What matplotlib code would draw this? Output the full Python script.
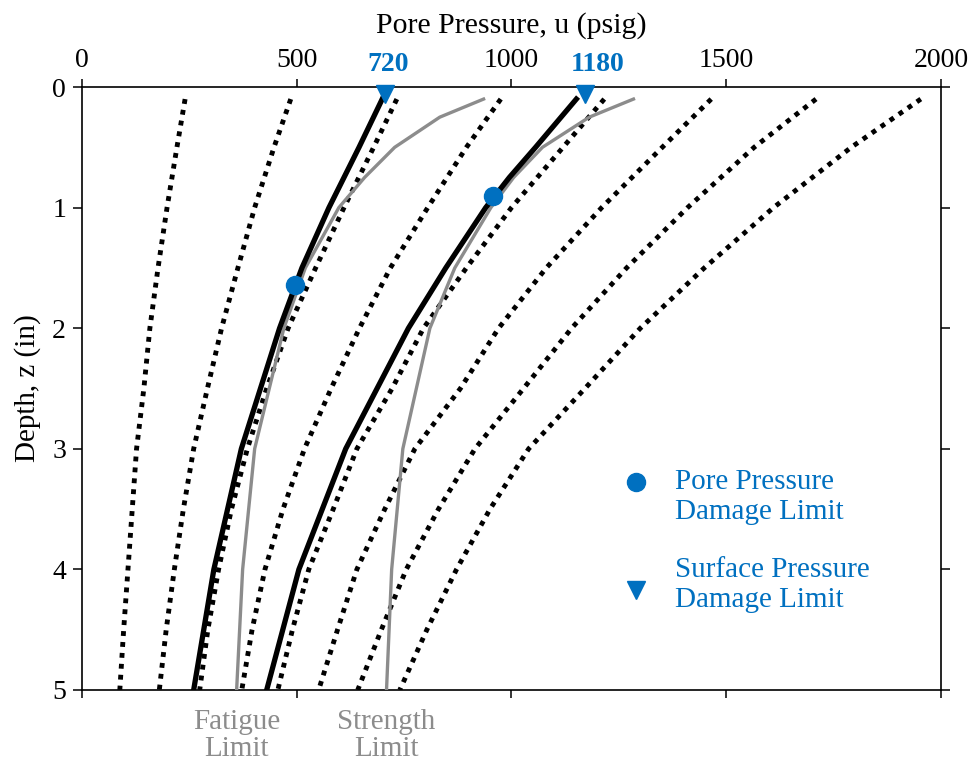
import numpy as np
import matplotlib
matplotlib.use("Agg")
from matplotlib import pyplot as plt

plt.rcParams['font.family'] = ['Liberation Serif', 'DejaVu Serif']

BLUE = '#0070C0'
GRAY = '#8C8C8C'

# depth points of the dotted family (in)
z_dot = [0.1, 0.5, 1, 1.5, 2, 2.5, 3, 3.5, 4, 4.5, 5]
# pore pressure curves (psig), one per dotted line
u_dot1 = [240, 221, 198, 177, 158, 144, 127, 117, 107, 97, 88]
u_dot2 = [486, 447, 402, 363, 325, 292, 260, 236, 215, 196, 180]
u_dot3 = [733, 679, 610, 544, 480, 430, 385, 348, 318, 293, 274]
u_dot4 = [975, 895, 805, 718, 646, 580, 518, 468, 426, 396, 372]
u_dot5 = [1216, 1120, 1000, 895, 795, 722, 640, 585, 528, 490, 456]
u_dot6 = [1465, 1351, 1210, 1081, 970, 881, 775, 705, 640, 595, 551]
u_dot7 = [1709, 1565, 1410, 1268, 1140, 1028, 915, 830, 755, 697, 642]
u_dot8 = [1953, 1791, 1610, 1449, 1300, 1171, 1040, 950, 872, 803, 740]

# solid black curves at the two surface damage limits
z_solid = [0.1, 0.5, 0.75, 1, 1.5, 2, 3, 4, 5]
u_black_720 = [699, 645, 610, 575, 512, 460, 371, 307, 260]
u_black_1180 = [1151, 1056, 995, 940, 847, 760, 614, 505, 430]

# gray limit curves
z_gray = [0.1, 0.25, 0.5, 0.75, 1, 1.5, 2, 3, 4, 5]
u_fatigue = [935, 833, 728, 658, 598, 520, 470, 402, 374, 360]
u_strength = [1284, 1181, 1072, 1005, 952, 868, 810, 747, 721, 709]

# damage limit markers
pore_u = [495, 958]
pore_z = [1.64, 0.90]
surface_u = [705, 1170]
surface_z = [0.06, 0.06]
surface_labels = ['720', '1180']
surface_label_x = [712, 1200]

fig = plt.figure(figsize=(9.74, 7.68), dpi=100)
ax = fig.add_axes([0.0842, 0.1016, 0.8819, 0.7851])

dotted = [u_dot1, u_dot2, u_dot3, u_dot4, u_dot5, u_dot6, u_dot7, u_dot8]
for u in dotted:
    ax.plot(u, z_dot, color='black', lw=3.5, linestyle=(0, (1, 1.25)),
            dash_capstyle='butt', zorder=2)

ax.plot(u_fatigue, z_gray, color=GRAY, lw=2.4, zorder=3)
ax.plot(u_strength, z_gray, color=GRAY, lw=2.4, zorder=3)
ax.plot(u_black_720, z_solid, color='black', lw=3.8, zorder=4)
ax.plot(u_black_1180, z_solid, color='black', lw=3.8, zorder=4)

ax.plot(pore_u, pore_z, 'o', color=BLUE, ms=13, zorder=5, clip_on=False)
ax.plot(surface_u, surface_z, 'v', color=BLUE, ms=13, zorder=5, clip_on=False)

ax.set_xlim(0, 2000)
ax.set_ylim(5, 0)
ax.set_xticks([0, 500, 1000, 1500, 2000])
ax.set_yticks([0, 1, 2, 3, 4, 5])
ax.xaxis.tick_top()
ax.xaxis.set_label_position('top')
ax.tick_params(axis='x', which='both', top=True, bottom=True, labeltop=True,
               labelbottom=False, direction='out', length=6, width=1.1,
               labelsize=20, pad=4)
ax.tick_params(axis='y', which='both', left=True, right=True, labelleft=True,
               labelright=False, direction='out', length=6.5, width=1.1,
               labelsize=20, pad=5)
for s in ax.spines.values():
    s.set_linewidth(1.2)

ax.set_xlabel('Pore Pressure, u (psig)', fontsize=21.5, labelpad=11)
ax.set_ylabel('Depth, z (in)', fontsize=21, labelpad=8)

# bold blue labels for the surface damage limits
for x, lab in zip(surface_label_x, surface_labels):
    ax.text(x, 1.0 + 10 / 603, lab, transform=ax.get_xaxis_transform(), ha='center',
            va='bottom', color=BLUE, fontsize=20, fontweight='bold')

# gray labels under the limit curves
ax.text(u_fatigue[-1], -0.075, 'Fatigue\nLimit', transform=ax.get_xaxis_transform(),
        ha='center', va='center', color=GRAY, fontsize=21, linespacing=1.05)
ax.text(u_strength[-1], -0.075, 'Strength\nLimit', transform=ax.get_xaxis_transform(),
        ha='center', va='center', color=GRAY, fontsize=21, linespacing=1.05)

# legend drawn by hand
ax.plot([0.645], [0.345], 'o', color=BLUE, ms=13, transform=ax.transAxes, clip_on=False)
ax.plot([0.645], [0.166], 'v', color=BLUE, ms=13, transform=ax.transAxes, clip_on=False)
ax.text(0.69, 0.320, 'Pore Pressure\nDamage Limit', transform=ax.transAxes,
        ha='left', va='center', color=BLUE, fontsize=21, linespacing=1.2)
ax.text(0.69, 0.174, 'Surface Pressure\nDamage Limit', transform=ax.transAxes,
        ha='left', va='center', color=BLUE, fontsize=21, linespacing=1.2)

fig.savefig('out.png', dpi=100)
